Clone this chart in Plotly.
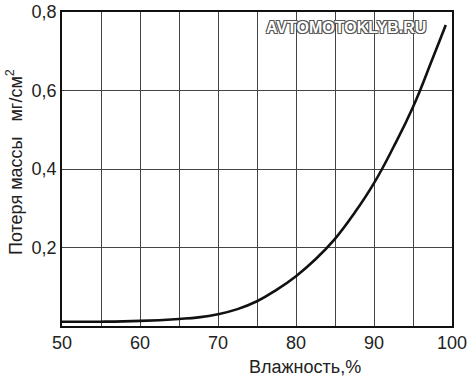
import plotly.graph_objects as go

humidity = [50, 55, 60, 65, 67.5, 70, 72.5, 75, 77.5, 80, 82.5, 85, 87.5, 90, 92.5, 95, 97.5, 99.2]
mass_loss = [0.011, 0.011, 0.013, 0.018, 0.022, 0.030, 0.043, 0.063, 0.092, 0.127, 0.170, 0.222,
             0.288, 0.364, 0.456, 0.558, 0.681, 0.767]

x_tick_vals = [50, 60, 70, 80, 90, 100]
x_tick_text = ["50", "60", "70", "80", "90", "100"]
y_tick_vals = [0.2, 0.4, 0.6, 0.8]
y_tick_text = ["0,2", "0,4", "0,6", "0,8"]

FONT = "Liberation Sans, Arial, sans-serif"
NB = "\u00a0"

fig = go.Figure()
fig.add_trace(go.Scatter(
    x=humidity, y=mass_loss, mode="lines",
    line=dict(color="#111111", width=2.6, shape="spline", smoothing=1.3),
    showlegend=False, hoverinfo="skip",
))

fig.update_layout(
    width=474, height=380,
    margin=dict(l=62, r=22, t=12, b=54),
    paper_bgcolor="white", plot_bgcolor="white",
    font=dict(family=FONT, size=18, color="#222222"),
)

fig.update_xaxes(
    range=[50, 100], showgrid=True,
    gridcolor="#444444", gridwidth=1,
    tickmode="array", tickvals=x_tick_vals, ticktext=x_tick_text,
    ticks="", showline=True, linecolor="#111111", linewidth=1.5, mirror=True,
    zeroline=False, automargin=False,
    tickfont=dict(size=18, color="#222222"),
    minor=dict(dtick=5, tick0=50, showgrid=True, gridcolor="#444444", gridwidth=1),
)

fig.update_yaxes(
    range=[0, 0.8], showgrid=True,
    gridcolor="#444444", gridwidth=1,
    tickmode="array", tickvals=y_tick_vals, ticktext=y_tick_text,
    ticks="", showline=True, linecolor="#111111", linewidth=1.5, mirror=True,
    zeroline=False, automargin=False,
    tickfont=dict(size=18, color="#222222"),
)

fig.add_annotation(
    text="Влажность,%", xref="paper", yref="paper",
    x=(305 - 62) / 390, y=0, yshift=-41, xanchor="center", yanchor="middle",
    showarrow=False, font=dict(family=FONT, size=18, color="#222222"),
)
fig.add_annotation(
    text="Потеря массы" + NB * 3 + "мг/см<sup>2</sup>", xref="paper", yref="paper",
    x=0, xshift=-48, y=(326 - 162) / 314, xanchor="center", yanchor="middle",
    textangle=-90, showarrow=False, font=dict(family=FONT, size=18, color="#222222"),
)
fig.add_annotation(
    text="<b>AVTOMOTOKLYB.RU</b>", xref="paper", yref="paper",
    x=(346 - 62) / 390, y=(326 - 28) / 314, xanchor="center", yanchor="middle",
    showarrow=False,
    font=dict(family=FONT, size=16, color="white",
              shadow="-1px -1px 0 #555, 1px -1px 0 #555, -1px 1px 0 #555, 1px 1px 0 #555"),
)

fig.write_html(
    "out.html",
    config={"displayModeBar": False},
    post_script="document.body.style.margin='0';document.body.style.padding='0';",
)
